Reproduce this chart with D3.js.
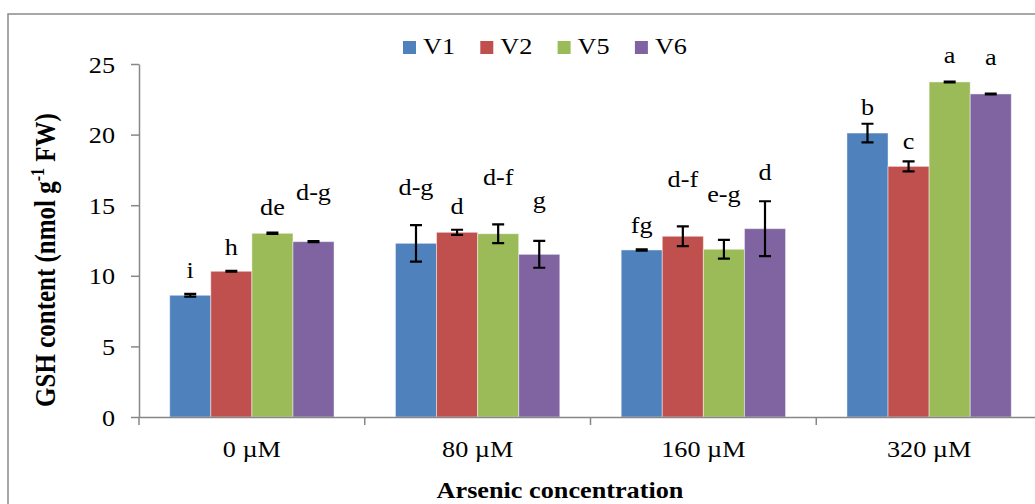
<!DOCTYPE html>
<html>
<head>
<meta charset="utf-8">
<script src="https://cdn.jsdelivr.net/npm/d3@7"></script>
<style>
  html, body { margin: 0; padding: 0; background: #fff; }
  svg { display: block; }
  text { font-family: "Liberation Serif", "Times New Roman", serif; fill: #000; }
</style>
</head>
<body>
<svg id="chart" width="1035" height="504"></svg>
<script>
// ---- data ----
const categories = ["0 µM", "80 µM", "160 µM", "320 µM"];
const seriesNames = ["V1", "V2", "V5", "V6"];
const seriesColors = ["#4F81BD", "#C0504D", "#9BBB59", "#8064A2"];
const v1 = [8.62, 12.30, 11.83, 20.11];
const v2 = [10.32, 13.08, 12.80, 17.75];
const v5 = [13.01, 12.98, 11.88, 23.73];
const v6 = [12.42, 11.52, 13.34, 22.88];
const e1 = [0.10, 1.29, 0.05, 0.66];
const e2 = [0.03, 0.18, 0.70, 0.35];
const e5 = [0.05, 0.66, 0.67, 0.03];
const e6 = [0.04, 0.95, 1.94, 0.03];
const l1 = ["i", "d-g", "fg", "b"];
const l2 = ["h", "d", "d-f", "c"];
const l5 = ["de", "d-f", "e-g", "a"];
const l6 = ["d-g", "g", "d", "a"];
// height (in axis units) of each letter's baseline
const ly1 = [9.82, 15.7, 13.05, 21.4];
const ly2 = [11.47, 14.35, 16.3, 19.0];
const ly5 = [14.3, 16.4, 15.2, 25.05];
const ly6 = [15.37, 14.8, 16.8, 24.9];
const yTicks = [0, 5, 10, 15, 20, 25];

const values = [v1, v2, v5, v6];
const errors = [e1, e2, e5, e6];
const letters = [l1, l2, l5, l6];
const letterY = [ly1, ly2, ly5, ly6];

// ---- layout ----
const svg = d3.select("#chart");
const SX = 1.14; // horizontal text stretch
const axisColor = "#878787";
const plotL = 139, plotR = 1042, plotT = 64, plotB = 417;

svg.append("rect")
  .attr("x", 8).attr("y", 14).attr("width", 1100).attr("height", 600)
  .attr("fill", "none").attr("stroke", "#8a8a8a").attr("stroke-width", 1.5);

const x = d3.scaleBand().domain(categories).range([plotL, plotR]).paddingInner(0).paddingOuter(0);
const bw = x.bandwidth();
const x1 = d3.scaleBand().domain(seriesNames).range([bw * 0.136, bw * 0.864]).padding(0);
const y = d3.scaleLinear().domain([0, 25]).range([plotB, plotT]);

// y axis
const gy = svg.append("g").attr("transform", `translate(${plotL},0)`)
  .call(d3.axisLeft(y).tickValues(yTicks).tickSize(8).tickPadding(16).tickSizeOuter(0));
gy.select(".domain").attr("stroke", axisColor).attr("stroke-width", 1.5);
gy.selectAll(".tick line").attr("stroke", axisColor).attr("stroke-width", 1.5);
gy.selectAll(".tick text")
  .attr("x", 0).attr("dy", "0.35em")
  .attr("transform", `translate(-24,0) scale(${SX},1)`)
  .style("font-size", "23px").style("font-family", "Liberation Serif");

// bars
const groups = svg.append("g").selectAll("g")
  .data(categories).join("g")
  .attr("transform", d => `translate(${x(d)},0)`);

seriesNames.forEach((s, si) => {
  groups.append("rect")
    .attr("x", x1(s))
    .attr("width", x1.bandwidth())
    .attr("y", (d, ci) => y(values[si][ci]))
    .attr("height", (d, ci) => y(0) - y(values[si][ci]))
    .attr("fill", seriesColors[si])
    .attr("stroke", "rgba(255,255,255,0.45)")
    .attr("stroke-width", 1);
});

// error bars
seriesNames.forEach((s, si) => {
  const cx = x1(s) + x1.bandwidth() / 2;
  const cap = 6;
  groups.append("path")
    .attr("d", (d, ci) => {
      const v = values[si][ci], e = errors[si][ci];
      const yt = y(v + e), yb = y(v - e);
      return `M${cx},${yt}V${yb}M${cx - cap},${yt}H${cx + cap}M${cx - cap},${yb}H${cx + cap}`;
    })
    .attr("fill", "none").attr("stroke", "#000").attr("stroke-width", 2.2);
});

// letters
seriesNames.forEach((s, si) => {
  const cx = x1(s) + x1.bandwidth() / 2;
  groups.append("text")
    .attr("transform", (d, ci) => `translate(${cx},${y(letterY[si][ci])}) scale(${SX},1)`)
    .attr("text-anchor", "middle")
    .style("font-size", "23px")
    .text((d, ci) => letters[si][ci]);
});

// x axis
const gx = svg.append("g").attr("transform", `translate(0,${plotB})`)
  .call(d3.axisBottom(x).tickSize(0).tickPadding(0).tickSizeOuter(0));
gx.select(".domain").attr("stroke", axisColor).attr("stroke-width", 1.5);
gx.selectAll(".tick text")
  .attr("y", 0).attr("dy", 0)
  .attr("transform", `translate(0,40) scale(${SX},1)`)
  .style("font-size", "23px").style("font-family", "Liberation Serif");
gx.append("g").selectAll("line")
  .data(categories).join("line")
  .attr("x1", d => x(d)).attr("x2", d => x(d))
  .attr("y1", 0).attr("y2", 8)
  .attr("stroke", axisColor).attr("stroke-width", 1.5);

// legend
const legend = svg.append("g");
seriesNames.forEach((s, i) => {
  const lx = 403 + i * 77.3;
  legend.append("rect").attr("x", lx).attr("y", 41).attr("width", 13).attr("height", 13)
    .attr("fill", seriesColors[i]);
  legend.append("text")
    .attr("transform", `translate(${lx + 20},54) scale(${SX},1)`)
    .style("font-size", "23px")
    .text(s);
});

// axis titles
svg.append("text")
  .attr("transform", `translate(560,498) scale(${SX},1)`)
  .attr("text-anchor", "middle")
  .style("font-size", "23px").style("font-weight", "bold")
  .text("Arsenic concentration");

const yTitle = svg.append("text")
  .attr("transform", `translate(55,260) scale(${SX},1) rotate(-90)`)
  .attr("text-anchor", "middle")
  .style("font-size", "25px").style("font-weight", "bold");
yTitle.append("tspan").text("GSH content (nmol g");
yTitle.append("tspan").attr("dy", -10).style("font-size", "16px").text("-1");
yTitle.append("tspan").attr("dy", 10).text(" FW)");
</script>
</body>
</html>
